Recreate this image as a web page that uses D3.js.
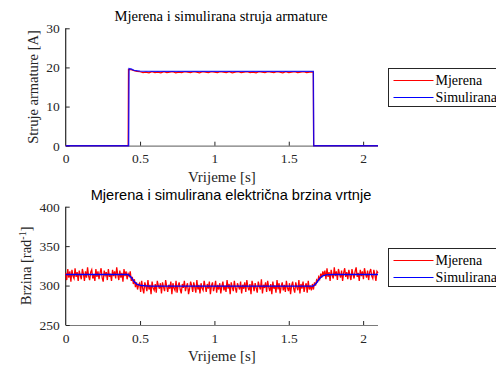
<!DOCTYPE html>
<html>
<head>
<meta charset="utf-8">
<script src="https://cdn.jsdelivr.net/npm/d3@7"></script>
<style>
  body { margin: 0; background: #fff; }
  svg { display: block; }
</style>
</head>
<body>
<div id="chart"></div>
<script>
// ---- data ----
const xTicks = [0, 0.5, 1, 1.5, 2];
const currentTicks = [0, 10, 20, 30];
const speedTicks = [250, 300, 350, 400];
const legendNames = ["Mjerena", "Simulirana"];

// simulated armature current [t, A]
const currentSim = [
  [0, 0], [0.423, 0], [0.426, 19.7], [0.44, 19.6], [0.46, 19.25], [0.5, 19.05],
  [0.6, 19.0], [1.665, 19.0], [1.668, 0], [2.1, 0]
];
// measured current plateau, sampled every 0.02 s from 0.44 s
const currentPlateauStart = 0.44;
const currentPlateauStep = 0.02;
const currentPlateau = [
  19.4, 19.2, 19.0, 18.9, 18.7, 18.8, 18.6, 18.9, 18.7, 18.8,
  18.6, 18.9, 18.7, 18.8, 18.9, 18.6, 18.8, 18.7, 18.9, 18.8,
  18.7, 18.9, 18.8, 18.6, 18.9, 18.8, 18.7, 18.9, 18.8, 18.7,
  18.9, 18.8, 18.7, 18.9, 18.6, 18.8, 18.9, 18.7, 18.8, 18.9,
  18.7, 18.8, 18.6, 18.9, 18.8, 18.7, 18.9, 18.8, 18.7, 18.9,
  18.8, 18.6, 18.9, 18.7, 18.8, 18.9, 18.7, 18.8, 18.9, 18.7,
  18.8, 18.8
];
const currentMeasHead = [[0, 0], [0.42, 0], [0.422, 19.5]];
const currentMeasTail = [[1.665, 18.8], [1.667, 0], [2.1, 0]];

// simulated electrical speed [t, rad/s]
const speedSim = [
  [0, 314], [0.42, 314], [0.44, 310.5], [0.46, 305], [0.48, 301.5], [0.51, 300],
  [0.56, 299.3], [1.665, 299.3], [1.685, 303], [1.705, 308.5], [1.725, 312],
  [1.75, 313.5], [1.8, 314], [2.1, 314]
];
// measured speed, sampled every 0.007 s from 0 s
const speedMeasStep = 0.007;
const speedMeas = [
  316, 307, 321, 310, 318, 305, 320, 312, 309, 322,
  311, 317, 306, 319, 313, 308, 321, 315, 306, 318,
  310, 323, 312, 307, 317, 320, 309, 314, 306, 321,
  311, 318, 308, 316, 322, 310, 305, 319, 313, 317,
  307, 321, 311, 315, 306, 320, 312, 318, 309, 323,
  314, 307, 319, 310, 316, 305, 321, 312, 318, 308,
  315,
  312, 318, 306, 311, 302, 308, 298, 304, 295, 301,
  303, 292, 306, 296, 290, 304, 299, 293, 307, 295,
  301, 289, 305, 297, 294, 302, 291, 306, 300, 296,
  303, 290, 304, 298, 293, 307, 299, 292, 301, 296,
  305, 289, 303, 297, 294, 306, 291, 300, 304, 295,
  290, 302, 297, 306, 293, 299, 303, 289, 296, 305,
  300, 292, 304, 298, 291, 307, 295, 301, 290, 303,
  297, 294, 306, 299, 292, 302, 296, 305, 289, 300,
  304, 293, 298, 306, 291, 301, 295, 303, 290, 299,
  305, 294, 300, 292, 307, 296, 302, 289, 304, 298,
  293, 306, 297, 291, 303, 299, 295, 305, 290, 301,
  296, 304, 292, 307, 298, 294, 302, 289, 306, 300,
  293, 303, 297, 291, 305, 299, 295, 308, 290, 301,
  297, 304, 292, 306, 298, 293, 302, 289, 305, 296,
  300, 291, 307, 295, 303, 290, 299, 304, 294, 301,
  292, 306, 297, 293, 303, 289, 300, 305, 296, 291,
  304, 298, 294, 307, 290, 302, 296, 305, 292, 299,
  303, 291, 306, 295, 300, 294, 302,
  295, 304, 300, 307, 305, 311, 308, 315, 310, 318, 313,
  319, 308, 322, 311, 317, 306, 320, 313, 309, 323,
  312, 318, 307, 321, 315, 310, 319, 306, 316, 322,
  311, 317, 308, 320, 313, 307, 321, 314, 309, 318,
  323, 311, 316, 306, 320, 312, 318, 308, 322, 315,
  310, 319, 307, 317, 321, 312, 309, 320, 314, 306,
  318, 316
];

// ---- layout ----
const W = 496, H = 366;
const X0 = 65.7, X1 = 378;
const RED = "#ff0000", BLUE = "#0000ff";
const SERIF = "'Liberation Serif', 'Times New Roman', serif";
const SANS = "'Liberation Sans', Arial, sans-serif";
const INK = "#262626";

const svg = d3.select("#chart").append("svg")
  .attr("width", W).attr("height", H)
  .style("background", "#fff");

const x = d3.scaleLinear().domain([0, 2.1]).range([X0, X1]);

const drawPanel = (cfg) => {
  const y = d3.scaleLinear().domain(cfg.yDomain).range([cfg.bottom, cfg.top]);
  const g = svg.append("g");

  const line = d3.line().x((d) => x(d[0])).y((d) => y(d[1]));

  // x axis (ticks inside)
  const xa = g.append("g").attr("transform", `translate(0,${cfg.bottom})`)
    .call(d3.axisBottom(x).tickValues(xTicks).tickSize(-4).tickPadding(8)
      .tickFormat((d) => d));
  xa.select(".domain").attr("stroke", "#7a7a7a").attr("stroke-width", 1.2)
    .attr("d", `M${X0},0.5H${X1}`);
  xa.selectAll(".tick line").attr("stroke", INK);
  xa.selectAll(".tick").filter((d) => d === 0).select("line").remove();
  xa.selectAll("text").style("font-family", SERIF).style("font-size", "13.5px")
    .attr("fill", INK).attr("dy", "0.71em");

  // y axis (ticks inside)
  const ya = g.append("g").attr("transform", `translate(${X0},0)`)
    .call(d3.axisLeft(y).tickValues(cfg.yTicks).tickSize(-4).tickPadding(6));
  ya.select(".domain").attr("stroke", INK).attr("stroke-width", 1.2)
    .attr("d", `M0,${cfg.top}V${cfg.bottom}`);
  ya.selectAll(".tick line").attr("stroke", INK);
  ya.selectAll("text").style("font-family", SERIF).style("font-size", "13.5px")
    .attr("fill", INK);

  // data lines
  g.append("path").datum(cfg.measured)
    .attr("fill", "none").attr("stroke", RED)
    .attr("stroke-width", cfg.measWidth).attr("stroke-linejoin", "miter")
    .attr("d", line);
  g.append("path").datum(cfg.simulated)
    .attr("fill", "none").attr("stroke", BLUE)
    .attr("stroke-width", 1.4).attr("opacity", cfg.simOpacity)
    .attr("d", line);

  // title
  svg.append("text")
    .attr("x", cfg.titleX).attr("y", cfg.titleY)
    .attr("text-anchor", "middle")
    .style("font-family", cfg.titleFont).style("font-size", cfg.titleSize + "px")
    .attr("fill", "#000")
    .text(cfg.title);

  // x label
  svg.append("text")
    .attr("x", (X0 + X1) / 2).attr("y", cfg.bottom + 36)
    .attr("text-anchor", "middle")
    .style("font-family", SERIF).style("font-size", "15px").attr("fill", INK)
    .text("Vrijeme [s]");

  // y label
  const yl = svg.append("text")
    .attr("transform", `translate(${cfg.yLabelX},${(cfg.top + cfg.bottom) / 2}) rotate(-90)`)
    .attr("text-anchor", "middle")
    .style("font-family", SERIF).style("font-size", "14.5px").attr("fill", INK);
  cfg.yLabel(yl);

  // legend
  const lg = svg.append("g").attr("transform", `translate(388.5,${cfg.legendTop})`);
  lg.append("rect").attr("width", 120).attr("height", 38)
    .attr("fill", "#fff").attr("stroke", INK).attr("stroke-width", 1);
  legendNames.forEach((name, i) => {
    const ly = 12 + i * 17;
    lg.append("line").attr("x1", 5).attr("x2", 45)
      .attr("y1", ly).attr("y2", ly)
      .attr("stroke", i === 0 ? RED : BLUE).attr("stroke-width", 1.1);
    lg.append("text")
      .attr("x", 47).attr("y", ly + 4.5)
      .style("font-family", SERIF).style("font-size", "14px").attr("fill", "#000")
      .text(name);
  });
};

const currentMeasured = currentMeasHead
  .concat(currentPlateau.map((v, i) => [currentPlateauStart + i * currentPlateauStep, v]))
  .concat(currentMeasTail);
const speedMeasured = speedMeas.map((v, i) => [i * speedMeasStep, v]);

drawPanel({
  top: 28.3, bottom: 145.7, yDomain: [0, 30], yTicks: currentTicks,
  measured: currentMeasured, simulated: currentSim, simOpacity: 0.85, measWidth: 1.2,
  title: "Mjerena i simulirana struja armature", titleFont: SERIF,
  titleX: 221, titleY: 21, titleSize: 14.6,
  yLabelX: 38,
  yLabel: (t) => t.text("Struje armature [A]"),
  legendTop: 68.5
});

drawPanel({
  top: 206.7, bottom: 325, yDomain: [250, 400], yTicks: speedTicks,
  measured: speedMeasured, simulated: speedSim, simOpacity: 1, measWidth: 1.3,
  title: "Mjerena i simulirana električna brzina vrtnje", titleFont: SANS,
  titleX: 231, titleY: 200, titleSize: 14.6,
  yLabelX: 31,
  yLabel: (t) => {
    t.append("tspan").text("Brzina [rad");
    t.append("tspan").style("font-size", "10px").attr("dy", -5).text("-1");
    t.append("tspan").attr("dy", 5).text("]");
  },
  legendTop: 248.5
});
</script>
</body>
</html>
